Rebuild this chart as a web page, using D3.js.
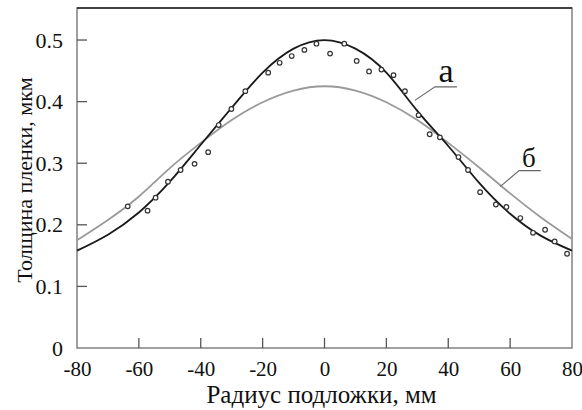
<!DOCTYPE html>
<html lang="ru">
<head>
    <meta charset="UTF-8">
    <title>Толщина пленки</title>
    <script src="https://d3js.org/d3.v7.min.js"></script>
    <style>
        body { margin: 0; background: #fff; }
    </style>
</head>
<body>
    <svg id="chart" width="582" height="410"></svg>
    <script>
        // curve samples (mm, um)
        const radius = [-80, -70, -60, -50, -40, -30, -20, -10, 0, 10, 20, 30, 40, 50, 60, 70, 80];
        const curveA = [0.158, 0.184, 0.220, 0.270, 0.330, 0.390, 0.447, 0.486, 0.500, 0.486, 0.447, 0.385, 0.328, 0.268, 0.218, 0.182, 0.158];
        const curveB = [0.175, 0.208, 0.246, 0.292, 0.333, 0.370, 0.399, 0.418, 0.425, 0.418, 0.399, 0.370, 0.333, 0.293, 0.251, 0.212, 0.177];

        // measured points
        const measX = [-63.6, -57.2, -54.6, -50.6, -46.5, -42.0, -37.6, -34.2, -30.1, -25.6, -18.2, -14.5, -10.6, -6.5, -2.6,
                       1.8, 6.4, 10.4, 14.4, 18.4, 22.3, 26.0, 30.4, 34.0, 37.3, 43.3, 46.4, 50.3, 55.4, 58.8, 63.3, 67.4, 71.3, 74.4, 78.4];
        const measY = [0.230, 0.223, 0.244, 0.270, 0.289, 0.299, 0.318, 0.362, 0.388, 0.417, 0.447, 0.463, 0.474, 0.484, 0.494,
                       0.478, 0.494, 0.466, 0.449, 0.452, 0.443, 0.417, 0.378, 0.347, 0.342, 0.310, 0.289, 0.253, 0.233, 0.229, 0.211, 0.187, 0.192, 0.173, 0.153];

        const xTicks = [-80, -60, -40, -20, 0, 20, 40, 60, 80];
        const yTicks = [0, 0.1, 0.2, 0.3, 0.4, 0.5];

        const serif = "Liberation Serif";
        const plotL = 77, plotR = 572, plotT = 8, plotB = 348;
        const svg = d3.select("#chart");

        const x = d3.scaleLinear().domain([-80, 80]).range([plotL, plotR]);
        const y = d3.scaleLinear().domain([0, 0.552]).range([plotB, plotT]);

        // frame
        svg.append("rect")
            .attr("x", plotL).attr("y", plotT)
            .attr("width", plotR - plotL).attr("height", plotB - plotT)
            .attr("fill", "none").attr("stroke", "#808080").attr("stroke-width", 1.5);
        svg.append("line")
            .attr("x1", plotL).attr("x2", plotR).attr("y1", plotT).attr("y2", plotT)
            .attr("stroke", "#222").attr("stroke-width", 1.5);

        // axes, labels only (ticks drawn inward below)
        const xAxis = svg.append("g")
            .attr("transform", `translate(0,${plotB})`)
            .call(d3.axisBottom(x).tickValues(xTicks).tickSize(0).tickPadding(13).tickFormat(d => String(d)));
        xAxis.select(".domain").remove();
        xAxis.selectAll("text").attr("font-family", serif).attr("font-size", 21).attr("fill", "#111");

        const yAxis = svg.append("g")
            .attr("transform", `translate(${plotL},0)`)
            .call(d3.axisLeft(y).tickValues(yTicks).tickSize(0).tickPadding(14)
                .tickFormat(d => d === 0 ? "0" : d3.format(".1f")(d)));
        yAxis.select(".domain").remove();
        yAxis.selectAll("text").attr("font-family", serif).attr("font-size", 22).attr("fill", "#111");

        svg.append("g").selectAll("line")
            .data(xTicks.slice(1, -1))
            .join("line")
            .attr("x1", d => x(d)).attr("x2", d => x(d))
            .attr("y1", plotB).attr("y2", plotB - 10)
            .attr("stroke", "#555").attr("stroke-width", 1.3);

        svg.append("g").selectAll("line")
            .data(yTicks.slice(1))
            .join("line")
            .attr("x1", plotL).attr("x2", plotL + 10)
            .attr("y1", d => y(d)).attr("y2", d => y(d))
            .attr("stroke", "#555").attr("stroke-width", 1.3);

        // curves
        const line = d3.line().curve(d3.curveNatural).x(d => x(d[0])).y(d => y(d[1]));
        svg.append("path")
            .attr("d", line(d3.zip(radius, curveB)))
            .attr("fill", "none").attr("stroke", "#9a9a9a").attr("stroke-width", 1.8);
        svg.append("path")
            .attr("d", line(d3.zip(radius, curveA)))
            .attr("fill", "none").attr("stroke", "#1a1a1a").attr("stroke-width", 1.8);

        // measured points
        svg.append("g").selectAll("circle")
            .data(d3.zip(measX, measY))
            .join("circle")
            .attr("cx", d => x(d[0])).attr("cy", d => y(d[1]))
            .attr("r", 2.3)
            .attr("fill", "#fff").attr("stroke", "#333").attr("stroke-width", 1.2);

        // curve labels
        const leaders = [
            { name: "а", pts: [[29.2, 0.402], [35.7, 0.424], [42.8, 0.424]], tx: 39.3, ty: 0.432, size: 34 },
            { name: "б", pts: [[56.8, 0.262], [62.9, 0.288], [69.9, 0.288]], tx: 66.1, ty: 0.294, size: 27 }
        ];
        const straight = d3.line().x(d => x(d[0])).y(d => y(d[1]));
        leaders.forEach(l => {
            svg.append("path").attr("d", straight(l.pts))
                .attr("fill", "none").attr("stroke", "#666").attr("stroke-width", 1.1);
            svg.append("text")
                .attr("x", x(l.tx)).attr("y", y(l.ty))
                .attr("text-anchor", "middle").attr("font-size", l.size)
                .attr("font-family", serif).attr("fill", "#111")
                .text(l.name);
        });

        // axis titles
        svg.append("text")
            .attr("x", (plotL + plotR) / 2 - 3).attr("y", 403)
            .attr("text-anchor", "middle").attr("font-size", 25)
            .attr("font-family", serif).attr("fill", "#111")
            .text("Радиус подложки, мм");
        svg.append("text")
            .attr("transform", `translate(32,${(plotT + plotB) / 2 + 2}) rotate(-90)`)
            .attr("text-anchor", "middle").attr("font-size", 22)
            .attr("font-family", serif).attr("fill", "#111")
            .text("Толщина пленки, мкм");
    </script>
</body>
</html>
